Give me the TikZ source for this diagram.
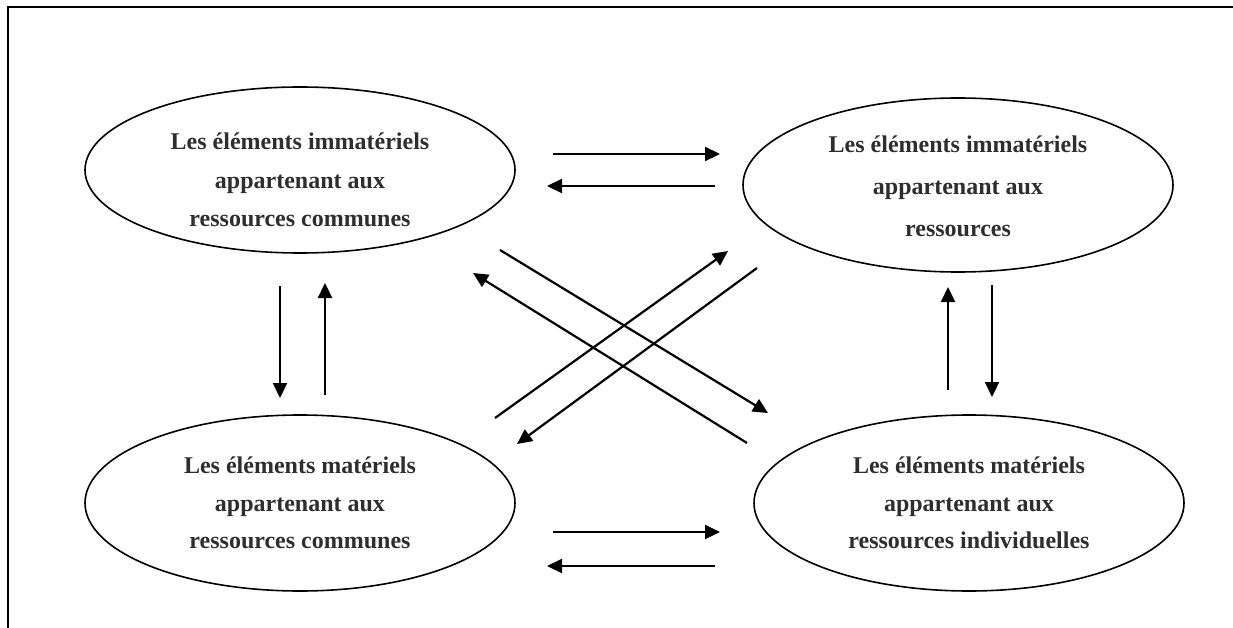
\documentclass[tikz,border=0pt]{standalone}
\usepackage{fontspec}
\setmainfont{Liberation Serif}
\usetikzlibrary{shapes.geometric,arrows.meta}
\definecolor{txt}{rgb}{0.18,0.18,0.18}
\begin{document}
\begin{tikzpicture}[x=1pt,y=-1pt,
  bubble/.style={draw,line width=1.6pt,ellipse,minimum width=430pt,minimum height=#1,inner sep=0pt},
  label text/.style={align=center,text=txt,inner sep=0pt,font=\fontsize{24}{#1}\selectfont\bfseries},
  conn/.style={line width=2.2pt,-{Triangle[length=15pt,width=14pt]}},
  frameline/.style={line width=2.2pt}]
\useasboundingbox (0,0) rectangle (1233,628);
\draw[frameline] (1233,7) -- (8,7) -- (8,628);
\node[bubble=166pt] (tl) at (300,170) {};
\node[bubble=174pt] (tr) at (958,185) {};
\node[bubble=176pt] (bl) at (300,503) {};
\node[bubble=176pt] (br) at (969,503) {};
\node[label text=38.5pt] (tlt) at (300,180) {Les éléments immatériels\\appartenant aux\\ressources communes};
\node[label text=42pt] (trt) at (958,186) {Les éléments immatériels\\appartenant aux\\ressources};
\node[label text=37.5pt] (blt) at (300,503) {Les éléments matériels\\appartenant aux\\ressources communes};
\node[label text=37.5pt] (brt) at (969,503) {Les éléments matériels\\appartenant aux\\ressources individuelles};
% connector end points
\coordinate (h1s) at (553,154); \coordinate (h1e) at (720,154);
\coordinate (h2s) at (715,186); \coordinate (h2e) at (547,186);
\coordinate (h3s) at (553,532); \coordinate (h3e) at (720,532);
\coordinate (h4s) at (715,566); \coordinate (h4e) at (547,566);
\coordinate (v1s) at (280,286); \coordinate (v1e) at (280,398);
\coordinate (v2s) at (325,395); \coordinate (v2e) at (325,283);
\coordinate (v3s) at (948,390); \coordinate (v3e) at (948,287);
\coordinate (v4s) at (992,285); \coordinate (v4e) at (992,397);
\coordinate (d1s) at (500,250); \coordinate (d1e) at (768,413);
\coordinate (d2s) at (747,443); \coordinate (d2e) at (473,273);
\coordinate (d3s) at (495,418); \coordinate (d3e) at (728,251);
\coordinate (d4s) at (757,268); \coordinate (d4e) at (517,444);
\foreach \a in {h1,h2,h3,h4,v1,v2,v3,v4,d1,d2,d3,d4}{\draw[conn] (\a s) -- (\a e);}
\end{tikzpicture}
\end{document}
